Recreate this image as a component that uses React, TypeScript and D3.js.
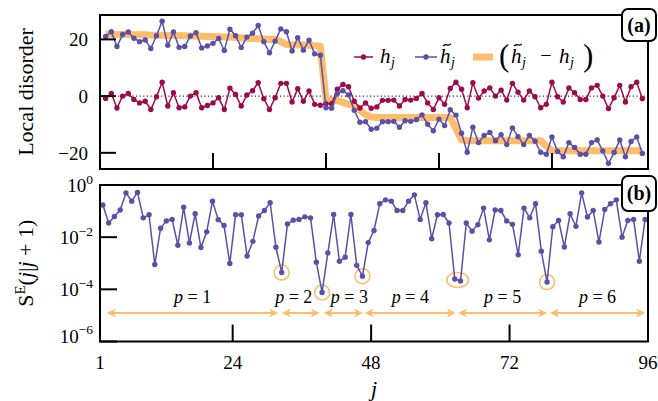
import React from "react";
import * as d3 from "d3";

const W = 658;
const H = 401;
const FONT = "'Liberation Serif', 'DejaVu Serif', serif";

// site index j = 1..96
const sites = d3.range(1, 97);

// local disorder h_j
const hValues = [
  -0.8, 0.9, -4.2, 0, 0.9, -1.2, -2.4, -1.8, -4.7, -0.2,
  4.9, -3.5, 1.2, -4.1, -3.8, 0, 1.2, -4.1, -3.3, -2.4,
  -0.6, -4.7, 2.8, 0.6, -3.5, 0.4, 1.9, 4.7, -0.9, -4.7,
  -0.6, 4.5, 4.5, -2.1, 2.6, -1.8, 1.8, -2.9, -3.2, -2.7,
  -2.7, 2.4, 4.1, 3.3, -1.8, -4.2, -2.4, -4.3, -3.8, -1.5,
  -1.5, -1.4, -3.5, -1.2, -1.4, -0.8, 0.9, -2.4, -4.7, -0.6,
  -2.9, 2.7, 4.9, 2.4, -4.1, 4.7, -0.7, 1.8, 2.9, 0,
  2.1, -1.4, 4.5, 1.4, -1.4, 1.8, -0.2, -4.1, -2.9, 4.9,
  -0.2, -2.1, 2.9, 1.2, -1.2, -1.2, 2.9, 3.8, 0, -4.4,
  -0.6, 3.8, -2.1, 3.3, 4.9, -0.9,
];

// (h~_j - h_j) step profile
const offsetValues = [
  21.8, 21.8, 21.7, 21.7, 21.7, 21.6, 21.6, 21.6, 21.5, 21.5,
  21.5, 21.4, 21.4, 21.3, 21.3, 21.2, 21.2, 21.1, 21.0, 21.0,
  20.9, 20.8, 20.8, 20.7, 20.6, 20.4, 20.3, 20.2, 20.1, 20.0,
  20.0, 19.2, 18.2, 18.0, 18.0, 18.0, 17.9, 17.8, 17.6, -1.4,
  -1.6, -1.5, -2.2, -2.9, -3.2, -5.0, -6.6, -7.4, -7.5, -7.5,
  -7.5, -7.5, -7.5, -7.5, -7.5, -7.5, -7.5, -7.5, -7.5, -7.5,
  -7.5, -7.5, -11.6, -15.5, -15.7, -15.7, -15.7, -15.7, -15.7, -15.7,
  -15.7, -15.7, -15.7, -15.7, -15.7, -15.7, -15.7, -15.7, -17.6, -19.3,
  -19.3, -19.3, -19.3, -19.3, -19.3, -19.3, -19.3, -19.3, -19.3, -19.3,
  -19.3, -19.3, -19.3, -19.3, -19.3, -19.3,
];

// entanglement S^E(j|j+1) for bonds j = 1..95
const seValues = [
  1.7e-1, 3.5e-2, 6.2e-2, 1.1e-1, 5.0e-1, 2.4e-1, 5.2e-1, 5.5e-2, 7.2e-2, 8.9e-4,
  2.2e-2, 4.2e-2, 4.8e-2, 4.9e-3, 1.4e-1, 6.0e-3, 7.9e-2, 4.0e-3, 1.6e-2, 2.4e-1,
  4.7e-2, 2.8e-2, 9.8e-4, 7.2e-2, 7.2e-2, 1.9e-3, 6.9e-3, 6.5e-2, 1.05e-1, 2.1e-1,
  4.1e-3, 4.4e-4, 3.2e-2, 4.5e-2, 4.8e-2, 6.0e-2, 5.5e-2, 1.1e-3, 7.6e-5, 2.5e-3,
  7.4e-2, 1.2e-3, 1.7e-3, 7.4e-2, 8.3e-4, 3.2e-4, 6.2e-3, 1.8e-2, 1.9e-1, 2.7e-1,
  2.4e-1, 1.05e-1, 1.05e-1, 2.4e-1, 4.2e-1, 4.8e-2, 2.1e-1, 8.7e-3, 7.2e-2, 7.4e-2,
  3.5e-2, 2.5e-4, 2.1e-4, 3.5e-2, 1.7e-2, 3.0e-2, 1.3e-1, 7.9e-3, 1.1e-1, 1.05e-1,
  4.2e-2, 3.1e-2, 2.1e-3, 1.3e-1, 5.5e-2, 1.9e-1, 2.9e-3, 1.9e-4, 2.5e-2, 4.4e-2,
  4.2e-3, 7.9e-2, 2.6e-2, 5.0e-1, 5.9e-2, 1.05e-1, 6.5e-3, 1.15e-1, 1.9e-1, 2.7e-1,
  1.0e-2, 4.4e-2, 4.8e-2, 1.2e-3, 4.8e-2,
];

const topYTicks = [20, 0, -20];
const topXTicks = [20, 40, 60, 80];
const botXTicks = [1, 24, 48, 72, 96];
const botYExponents = [0, -2, -4, -6];

// circled minima (bond indices)
const circledBonds = [[32], [39], [46], [62, 63], [78]];
// partition arrows (in j units) and their labels
const partitionSpans = [
  [2.2, 31.9], [32.5, 39.1], [39.8, 46.6], [46.9, 62.7], [63.1, 78.5], [79.0, 95.5],
];
const partitionLabels = ["1", "2", "3", "4", "5", "6"];
const labelShift = [0, -7, 6, 0, 0, 0];

const RED = "#9b0b4f";
const PURPLE = "#5b4fa6";
const ORANGE = "#fdbd6c";

const TOPBOX = { x0: 100, x1: 648, y0: 15, y1: 169 };
const BOTBOX = { x0: 100, x1: 648, y0: 185, y1: 341.5 };

function Tilde({ cx, cy, w }: { cx: number; cy: number; w: number }) {
  const a = w * 0.16;
  const d = `M${cx - w / 2},${cy + a} C${cx - w / 4},${cy - 2.2 * a} ${cx + w / 4},${cy + 2.2 * a} ${cx + w / 2},${cy - a}`;
  return <path d={d} fill="none" stroke="#000" strokeWidth={1.3} />;
}

function HTilde({ x, y, size }: { x: number; y: number; size: number }) {
  return (
    <g>
      <text x={x} y={y} fontSize={size} fontStyle="italic">h</text>
      <Tilde cx={x + size * 0.33} cy={y - size * 0.86} w={size * 0.36} />
    </g>
  );
}

function arrowHead(x: number, y: number, dir: number) {
  const L = 9, Wd = 4.6, notch = 6.5;
  return `M${x},${y} L${x - dir * L},${y - Wd} L${x - dir * notch},${y} L${x - dir * L},${y + Wd} Z`;
}

export default function App() {
  const xTop = d3.scaleLinear().domain([0, 97]).range([TOPBOX.x0, TOPBOX.x1]);
  const yTop = d3.scaleLinear().domain([-25.7, 28.6]).range([TOPBOX.y1, TOPBOX.y0]);
  const xBot = d3.scaleLinear().domain([1, 96]).range([BOTBOX.x0, BOTBOX.x1]);
  const yBot = d3.scaleLog().domain([1e-6, 1]).range([BOTBOX.y1, BOTBOX.y0]);

  type P = { x: number; v: number };
  const hData: P[] = sites.map((j, i) => ({ x: j, v: hValues[i] }));
  const offData: P[] = sites.map((j, i) => ({ x: j, v: offsetValues[i] }));
  const htData: P[] = sites.map((j, i) => ({ x: j, v: hValues[i] + offsetValues[i] }));
  const seData: P[] = seValues.map((v, i) => ({ x: i + 1.5, v }));

  const lineTop = d3.line<P>().x((d) => xTop(d.x)).y((d) => yTop(d.v));
  const lineBot = d3.line<P>().x((d) => xBot(d.x)).y((d) => yBot(d.v));

  const tickFs = 19;
  const labelFs = 22;

  return (
    <svg width={W} height={H} viewBox={`0 0 ${W} ${H}`} style={{ position: "absolute", left: 0, top: 0, background: "#fff", fontFamily: FONT }}>
      <rect x={0} y={0} width={W} height={H} fill="#fff" />
      {/* ---------- TOP PANEL ---------- */}
      <line x1={TOPBOX.x0} x2={TOPBOX.x1} y1={yTop(0)} y2={yTop(0)} stroke="#000" strokeWidth={1} strokeDasharray="1.2,2.4" />
      <path d={lineTop(offData) || ""} fill="none" stroke={ORANGE} strokeWidth={7} strokeLinejoin="round" />
      <path d={lineTop(hData) || ""} fill="none" stroke={RED} strokeWidth={1.5} />
      {hData.map((d, i) => (
        <circle key={"h" + i} cx={xTop(d.x)} cy={yTop(d.v)} r={2.7} fill={RED} />
      ))}
      <path d={lineTop(htData) || ""} fill="none" stroke={PURPLE} strokeWidth={1.5} />
      {htData.map((d, i) => (
        <circle key={"t" + i} cx={xTop(d.x)} cy={yTop(d.v)} r={2.7} fill={PURPLE} />
      ))}

      {/* legend */}
      <g>
        <line x1={354} x2={373} y1={57} y2={57} stroke={RED} strokeWidth={1.5} />
        <circle cx={363.5} cy={57} r={2.7} fill={RED} />
        <text x={380} y={63} fontSize={21} fontStyle="italic">h</text>
        <text x={391} y={67} fontSize={14} fontStyle="italic">j</text>

        <line x1={415} x2={437} y1={57} y2={57} stroke={PURPLE} strokeWidth={1.5} />
        <circle cx={426} cy={57} r={2.7} fill={PURPLE} />
        <HTilde x={440} y={63} size={21} />
        <text x={451} y={67} fontSize={14} fontStyle="italic">j</text>

        <line x1={473} x2={493} y1={57} y2={57} stroke={ORANGE} strokeWidth={7} />
        <text x={499} y={66} fontSize={31}>(</text>
        <HTilde x={511} y={63} size={21} />
        <text x={522} y={67} fontSize={14} fontStyle="italic">j</text>
        <text x={546} y={62} fontSize={20} textAnchor="middle">−</text>
        <text x={559} y={63} fontSize={21} fontStyle="italic">h</text>
        <text x={570} y={67} fontSize={14} fontStyle="italic">j</text>
        <text x={583} y={66} fontSize={31}>)</text>
      </g>

      {/* top ticks */}
      {topYTicks.map((t) => (
        <g key={"ty" + t}>
          <line x1={TOPBOX.x0} x2={TOPBOX.x0 + 16} y1={yTop(t)} y2={yTop(t)} stroke="#000" strokeWidth={2} />
          <text x={88} y={yTop(t) + 7} fontSize={tickFs} textAnchor="end">{t < 0 ? "−" + Math.abs(t) : String(t)}</text>
        </g>
      ))}
      {topXTicks.map((t) => (
        <line key={"tx" + t} x1={xTop(t)} x2={xTop(t)} y1={TOPBOX.y1} y2={TOPBOX.y1 - 16} stroke="#000" strokeWidth={2} />
      ))}
      <rect x={TOPBOX.x0} y={TOPBOX.y0} width={TOPBOX.x1 - TOPBOX.x0} height={TOPBOX.y1 - TOPBOX.y0} fill="none" stroke="#000" strokeWidth={2} />
      <text transform={`translate(33,${(TOPBOX.y0 + TOPBOX.y1) / 2}) rotate(-90)`} textAnchor="middle" fontSize={labelFs}>Local disorder</text>

      {/* ---------- BOTTOM PANEL ---------- */}
      {partitionSpans.map((s, i) => {
        const xa = xBot(s[0]);
        const xb = xBot(s[1]);
        const y = 313;
        return (
          <g key={"p" + i}>
            <line x1={xa + 4} x2={xb - 4} y1={y} y2={y} stroke={ORANGE} strokeWidth={2} />
            <path d={arrowHead(xa, y, -1)} fill={ORANGE} />
            <path d={arrowHead(xb, y, 1)} fill={ORANGE} />
            <text x={(xa + xb) / 2 + labelShift[i]} y={303} fontSize={18} textAnchor="middle">
              <tspan fontStyle="italic">p</tspan>
              <tspan> = {partitionLabels[i]}</tspan>
            </text>
          </g>
        );
      })}
      {circledBonds.map((g, i) => {
        const xs = g.map((b) => xBot(b + 0.5));
        const ys = g.map((b) => yBot(seValues[b - 1]));
        const cx = d3.mean(xs) as number;
        const cy = d3.mean(ys) as number;
        const rx = 7.5 + (d3.max(xs)! - d3.min(xs)!) / 2 + 0.5 * (g.length - 1);
        return <ellipse key={"c" + i} cx={cx} cy={cy} rx={rx} ry={7.5} fill="none" stroke={ORANGE} strokeWidth={1.6} />;
      })}
      <path d={lineBot(seData) || ""} fill="none" stroke={PURPLE} strokeWidth={1.5} />
      {seData.map((d, i) => (
        <circle key={"s" + i} cx={xBot(d.x)} cy={yBot(d.v)} r={2.7} fill={PURPLE} />
      ))}

      {botYExponents.map((e) => {
        const y = yBot(Math.pow(10, e));
        return (
          <g key={"by" + e}>
            <line x1={BOTBOX.x0} x2={BOTBOX.x0 + 17} y1={y} y2={y} stroke="#000" strokeWidth={2} />
            <text x={93} y={e === -6 ? y + 1 : y + 7} fontSize={tickFs} textAnchor="end">
              10
              <tspan dy={-8.5} fontSize={13.5}>{e < 0 ? "−" + Math.abs(e) : String(e)}</tspan>
            </text>
          </g>
        );
      })}
      {botXTicks.map((t) => (
        <g key={"bx" + t}>
          <line x1={xBot(t)} x2={xBot(t)} y1={BOTBOX.y1} y2={BOTBOX.y1 - 17} stroke="#000" strokeWidth={2} />
          <text x={xBot(t)} y={369} fontSize={tickFs} textAnchor="middle">{t}</text>
        </g>
      ))}
      <rect x={BOTBOX.x0} y={BOTBOX.y0} width={BOTBOX.x1 - BOTBOX.x0} height={BOTBOX.y1 - BOTBOX.y0} fill="none" stroke="#000" strokeWidth={2} />
      <text x={(BOTBOX.x0 + BOTBOX.x1) / 2} y={396} fontSize={labelFs} fontStyle="italic" textAnchor="middle">j</text>
      <text transform={`translate(33,${(BOTBOX.y0 + BOTBOX.y1) / 2}) rotate(-90)`} textAnchor="middle" fontSize={labelFs}>
        S<tspan dy={-8.5} fontSize={15}>E</tspan>
        <tspan dy={8.5}>(</tspan>
        <tspan fontStyle="italic">j</tspan>|<tspan fontStyle="italic">j</tspan> + 1)
      </text>

      {/* panel labels */}
      <rect x={622} y={9} width={34} height={32} rx={6} fill="#fff" stroke="#000" strokeWidth={2} />
      <text x={639} y={31.5} fontSize={20} fontWeight="bold" textAnchor="middle">(a)</text>
      <rect x={622} y={176} width={34} height={35} rx={6} fill="#fff" stroke="#000" strokeWidth={2} />
      <text x={639} y={200} fontSize={20} fontWeight="bold" textAnchor="middle">(b)</text>
    </svg>
  );
}
